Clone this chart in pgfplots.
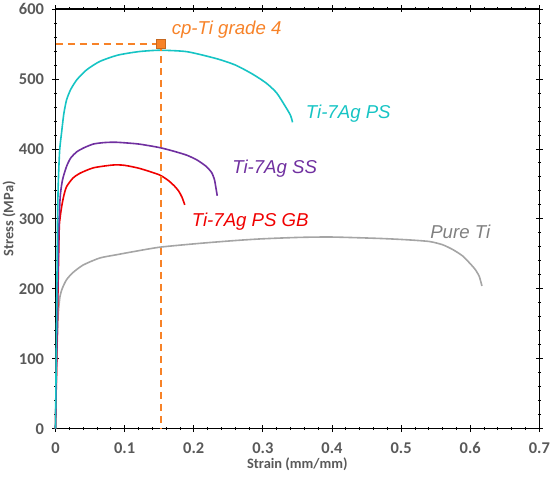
\documentclass[border=0pt]{standalone}
\usepackage{fontspec}
\setmainfont{Carlito}
\newfontfamily\lab{Liberation Sans}
\usepackage{pgfplots}
\pgfplotsset{compat=1.18}
\definecolor{tcyan}{RGB}{22,196,196}
\definecolor{tpurple}{RGB}{112,48,160}
\definecolor{tred}{RGB}{240,0,0}
\definecolor{tgray}{RGB}{165,165,165}
\definecolor{tgraytext}{RGB}{128,128,128}
\definecolor{torange}{RGB}{247,130,40}
\definecolor{axtext}{RGB}{89,89,89}
\begin{document}
\begin{tikzpicture}
\begin{axis}[
  scale only axis,
  width=483.8bp, height=419.7bp,
  xmin=0, xmax=0.7, ymin=0, ymax=600,
  xtick={0,0.1,...,0.7}, ytick={0,100,...,600},
  minor x tick num=4, minor y tick num=4,
  tick align=center,
  major tick length=7bp, minor tick length=3bp,
  tick style={black, line width=0.8bp},
  axis line style={black, line width=1.2bp},
  /pgf/number format/assume math mode=true,
  /pgf/number format/fixed,
  ticklabel style={font=\bfseries\fontsize{16.5}{18}\selectfont, text=axtext},
  xticklabel style={yshift=-7bp},
  yticklabel style={xshift=-4.5bp},
  xlabel={Strain (mm/mm)}, ylabel={Stress (MPa)},
  label style={font=\bfseries\fontsize{14.5}{16}\selectfont, text=axtext},
  xlabel style={at={(axis description cs:0.5,0)}, anchor=center, yshift=-36bp},
  ylabel style={at={(axis description cs:0,0.5)}, anchor=center, yshift=46.5bp},
  clip=false,
  every axis plot/.append style={line width=1.6bp},
]
% Pure Ti
\addplot[tgray, smooth, tension=0.4] coordinates {
(0,0) (0.0015,100) (0.0026,127) (0.004,165) (0.0065,189) (0.01,201) (0.016,213)
(0.025,223) (0.04,234) (0.064,244) (0.09,249) (0.112,253) (0.151,259.5)
(0.209,265) (0.26,269) (0.3,271.5) (0.353,273.5) (0.4,274) (0.469,272)
(0.51,270) (0.541,267.6) (0.56,263) (0.575,256) (0.589,247) (0.599,237)
(0.607,228) (0.613,218) (0.617,204)};
% Ti-7Ag PS GB
\addplot[tred, smooth, tension=0.4] coordinates {
(0,0) (0.005,270) (0.0065,300) (0.009,318) (0.012,333) (0.016,346) (0.025,358)
(0.035,365) (0.055,373) (0.0835,377) (0.1,376.5) (0.122,372) (0.15,363)
(0.163,355) (0.172,347) (0.178,340) (0.183,331) (0.187,320)};
% Ti-7Ag SS
\addplot[tpurple, smooth, tension=0.4] coordinates {
(0,0) (0.004,250) (0.0065,327) (0.01,355) (0.016,375) (0.022,387) (0.031,396)
(0.042,402) (0.055,407) (0.07,409) (0.088,409.5) (0.12,407) (0.15,402)
(0.17,397) (0.19,391) (0.205,384) (0.218,375) (0.226,366) (0.23,356)
(0.232,345) (0.234,333)};
% Ti-7Ag PS
\addplot[tcyan, smooth, tension=0.4] coordinates {
(0,0) (0.002,200) (0.003,300) (0.004,350) (0.006,398) (0.009,425) (0.012,450)
(0.016,470) (0.022,485) (0.031,499) (0.045,513) (0.064,525) (0.09,534)
(0.12,539) (0.15,541) (0.19,539) (0.233,529) (0.26,520) (0.285,507)
(0.305,494) (0.32,480) (0.333,460) (0.34,448) (0.343,438)};
% cp-Ti grade 4 guide lines
\addplot[torange, line width=2bp, dash pattern=on 7bp off 5bp] coordinates {(0,550) (0.152,550)};
\addplot[torange, line width=2bp, dash pattern=on 7bp off 5bp] coordinates {(0.152,550) (0.152,0)};
\addplot[only marks, mark=square*, mark size=4.3bp, mark options={fill=torange, draw=torange!80!black, line width=0.6bp, solid}] coordinates {(0.152,550)};
% labels
\node[anchor=base west, inner sep=0pt, text=torange, font=\lab\itshape\fontsize{18.7}{20}\selectfont] at (axis cs:0.168,563) {cp-Ti grade 4};
\node[anchor=base west, inner sep=0pt, text=tcyan, font=\lab\itshape\fontsize{18.7}{20}\selectfont] at (axis cs:0.362,444) {Ti-7Ag PS};
\node[anchor=base west, inner sep=0pt, text=tpurple, font=\lab\itshape\fontsize{18.7}{20}\selectfont] at (axis cs:0.2555,365) {Ti-7Ag SS};
\node[anchor=base west, inner sep=0pt, text=tred, font=\lab\itshape\fontsize{18.7}{20}\selectfont] at (axis cs:0.197,289) {Ti-7Ag PS GB};
\node[anchor=base west, inner sep=0pt, text=tgraytext, font=\lab\itshape\fontsize{18.7}{20}\selectfont] at (axis cs:0.542,272.4) {Pure Ti};
\coordinate (bl) at (rel axis cs:0,0);
\coordinate (tr) at (rel axis cs:1,1);
\end{axis}
\pgfresetboundingbox
\path ([shift={(-55.5bp,-50.3bp)}]bl) rectangle ([shift={(10.7bp,9bp)}]tr);
\end{tikzpicture}
\end{document}
